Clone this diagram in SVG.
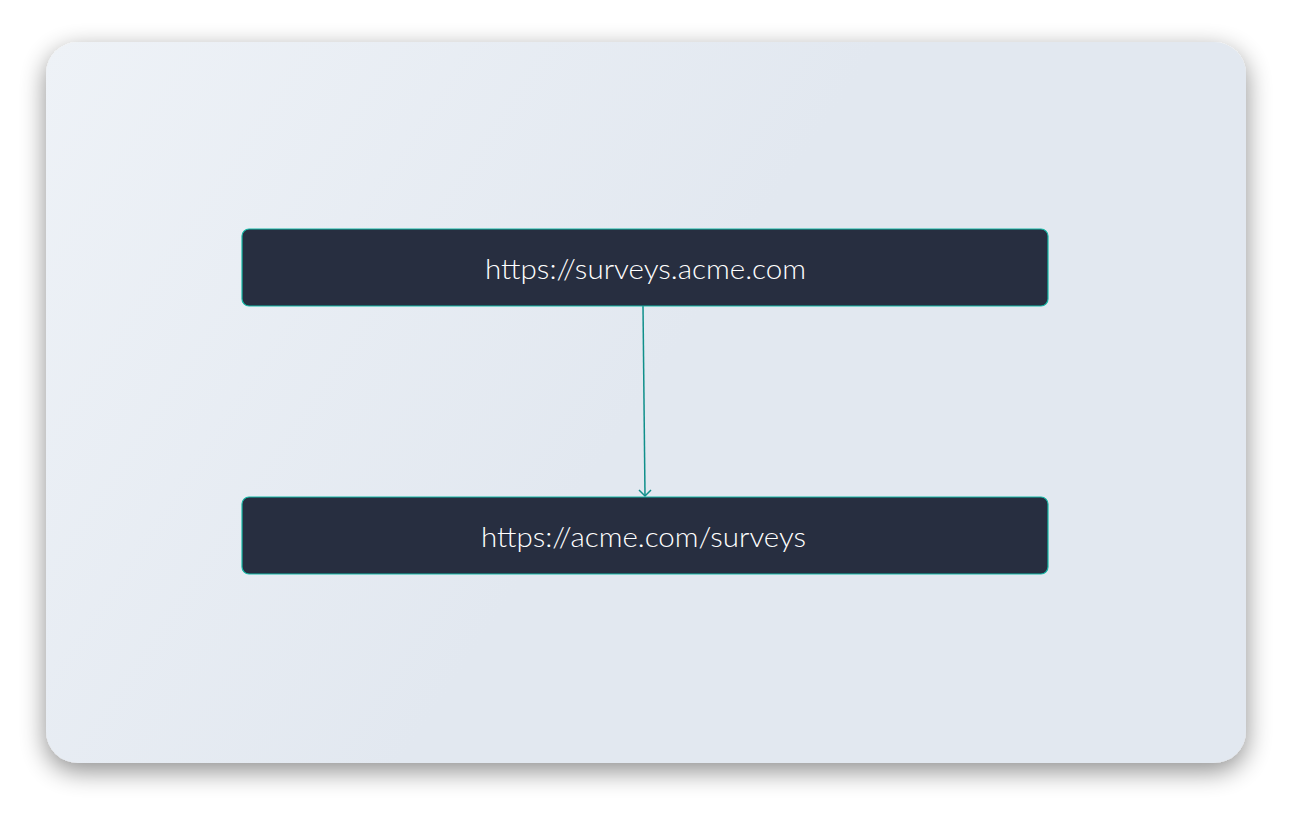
<svg xmlns="http://www.w3.org/2000/svg" width="1292" height="813" viewBox="0 0 1292 813">
<defs>
<linearGradient id="bg" x1="0" y1="0" x2="1" y2="0.4">
<stop offset="0" stop-color="#eef2f7"/>
<stop offset="0.6" stop-color="#e2e8f0"/>
<stop offset="1" stop-color="#e2e8f0"/>
</linearGradient>
<filter id="sh" x="-10%" y="-10%" width="120%" height="125%">
<feGaussianBlur in="SourceAlpha" stdDeviation="13"/>
<feOffset dx="0" dy="8" result="b"/>
<feComponentTransfer><feFuncA type="linear" slope="0.45"/></feComponentTransfer>
<feMerge><feMergeNode/><feMergeNode in="SourceGraphic"/></feMerge>
</filter>
<style>
.node rect{fill:#272e40;stroke:#14b8a6;stroke-width:1.2}
.node text{fill:#ffffff;font-family:"Lato","Open Sans",sans-serif;font-size:28px;font-weight:300;text-anchor:middle}
.edge{stroke:#0f8f8a;stroke-width:1.5;fill:none}
</style>
</defs>
<rect width="1292" height="813" fill="#ffffff"/>
<rect x="46" y="42" width="1200" height="721" rx="32" fill="url(#bg)" filter="url(#sh)"/>
<g id="connectors">
<path class="edge" d="M643,306 L645,496"/>
<path class="edge" d="M639,490 L645,496 L651,490"/>
</g>
<g id="node1" class="node">
<rect x="242" y="229" width="806" height="77" rx="7"/>
<text x="645.5" y="279" textLength="321" lengthAdjust="spacingAndGlyphs">https://surveys.acme.com</text>
</g>
<g id="node2" class="node">
<rect x="242" y="497" width="806" height="77" rx="7"/>
<text x="643.5" y="547" textLength="325" lengthAdjust="spacingAndGlyphs">https://acme.com/surveys</text>
</g>
</svg>
